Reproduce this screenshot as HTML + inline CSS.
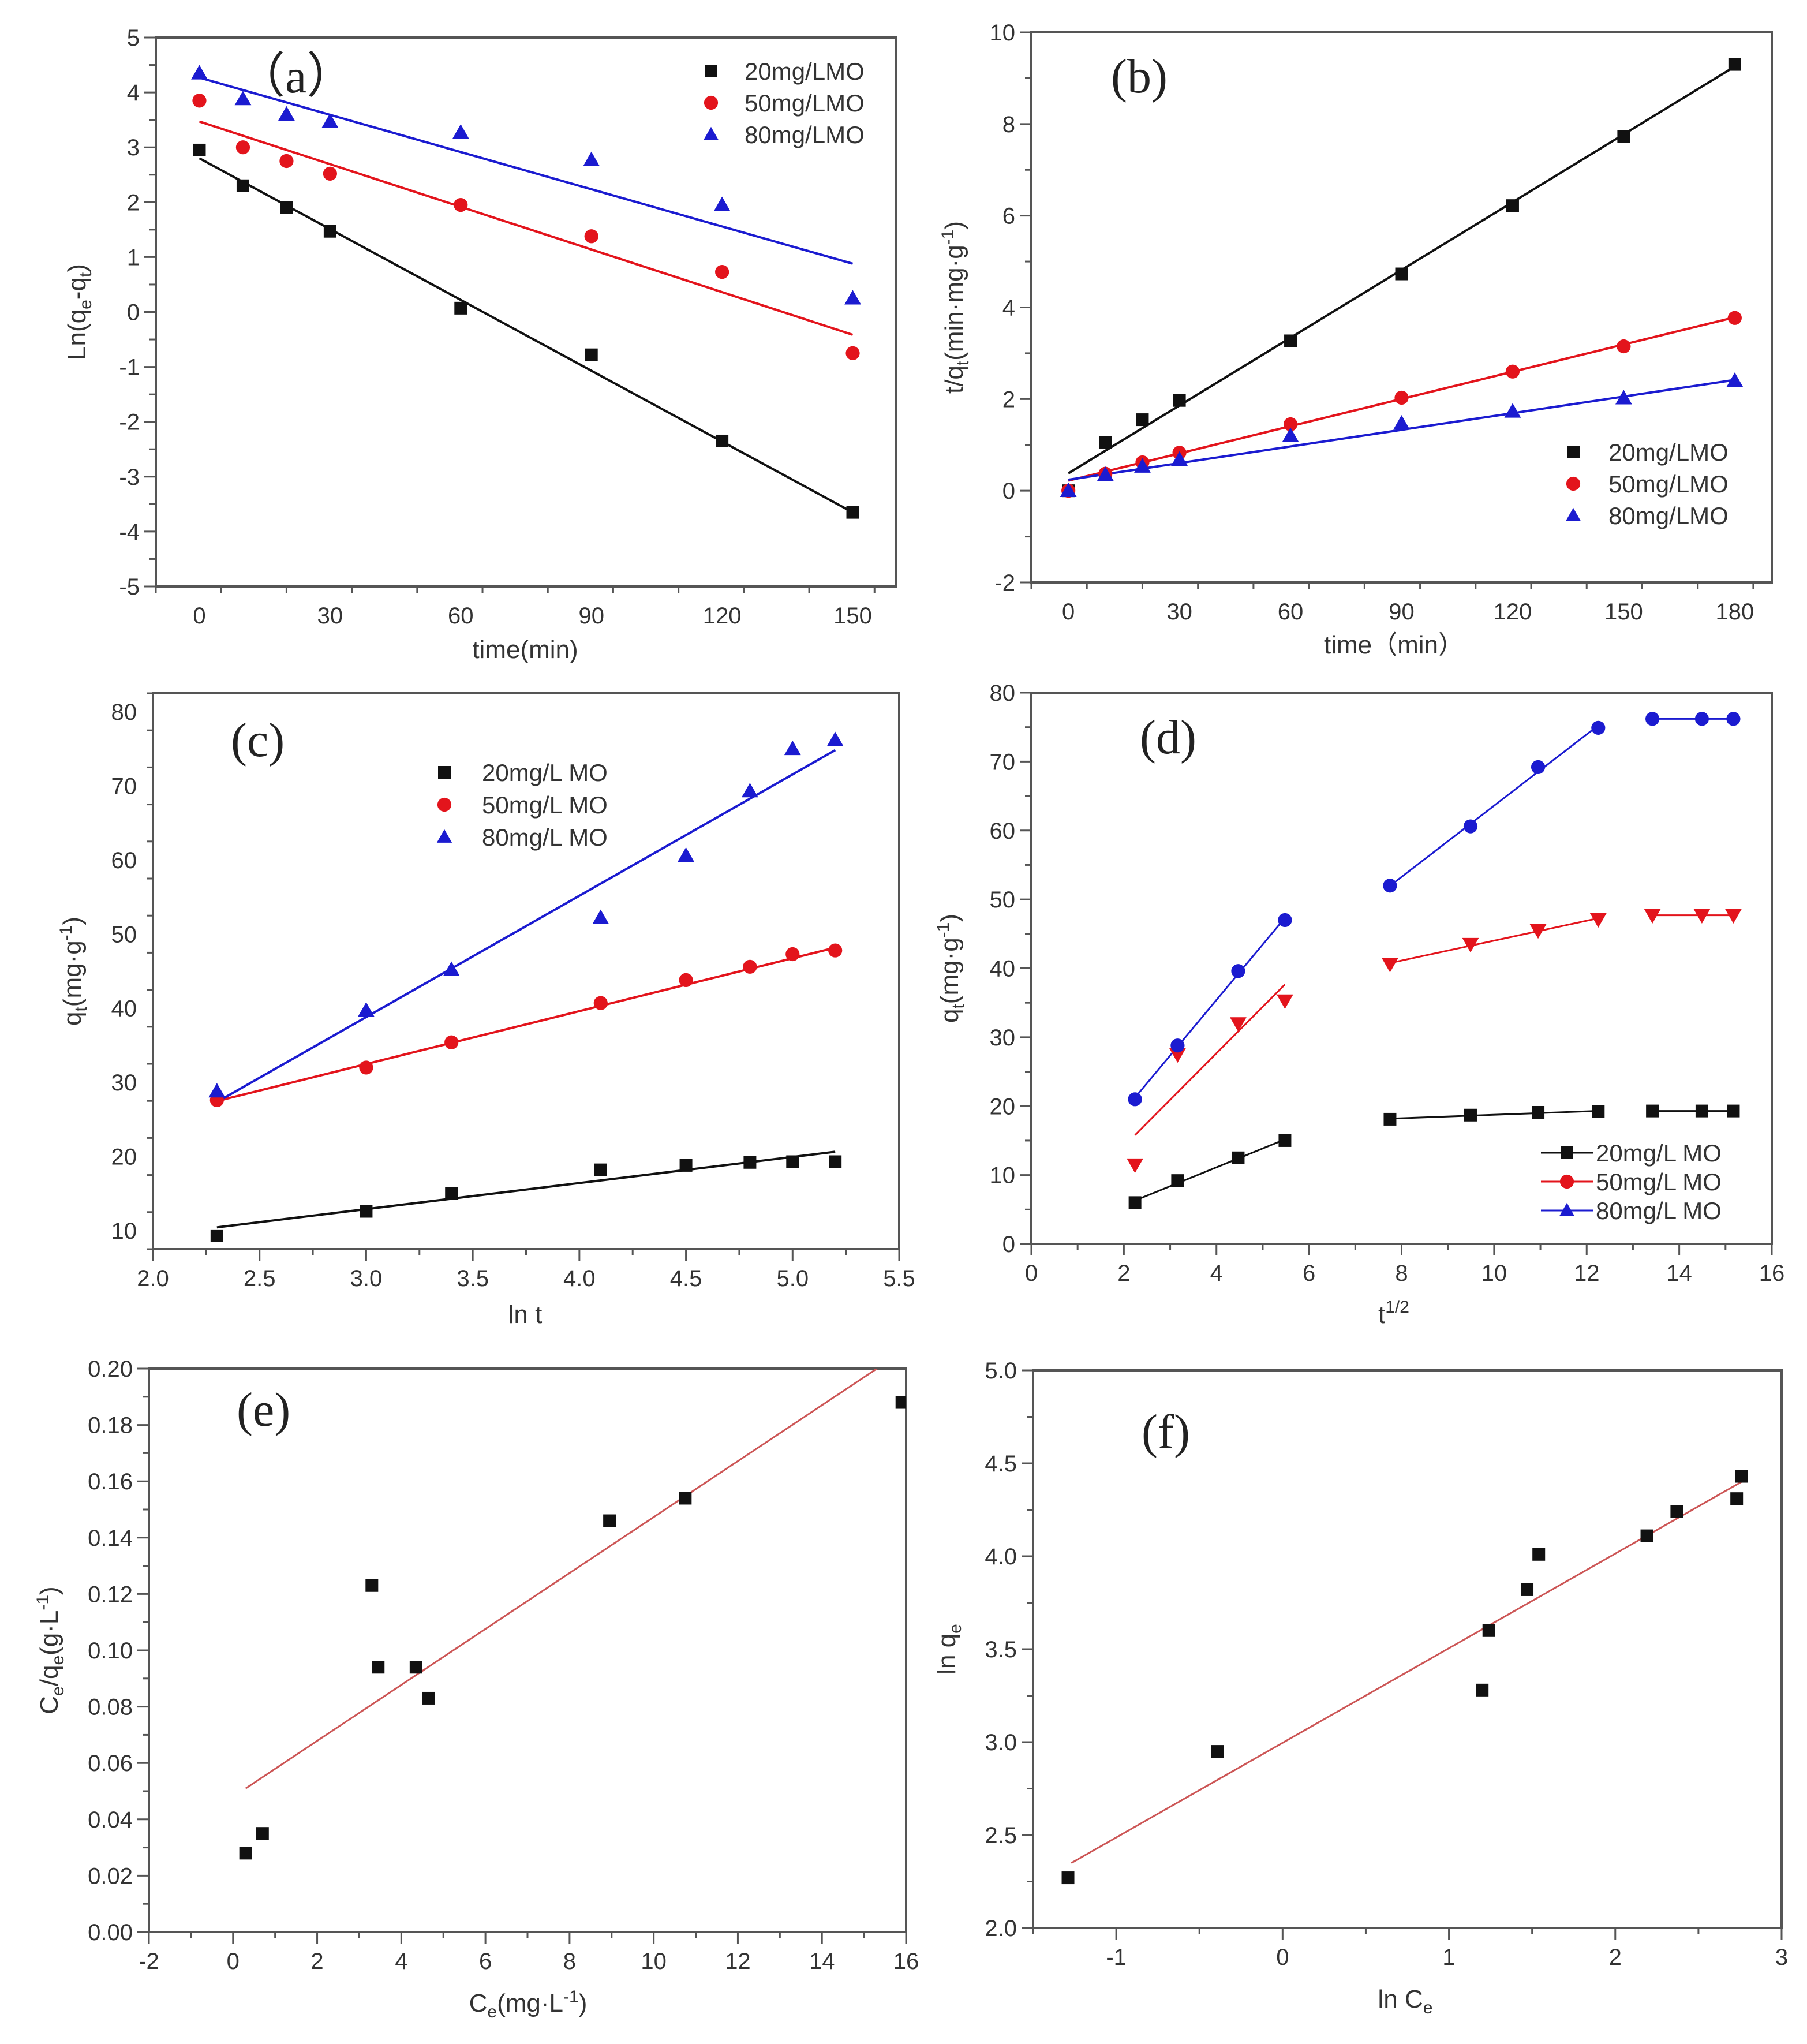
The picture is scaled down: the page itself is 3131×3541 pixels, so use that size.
<!DOCTYPE html>
<html><head><meta charset="utf-8"><style>
html,body{margin:0;padding:0;background:#fff;}
svg{display:block;font-family:"Liberation Sans",Arial,sans-serif;}
</style></head><body>
<svg id="fig" width="3131" height="3541" viewBox="0 0 3131 3541" xmlns="http://www.w3.org/2000/svg">
<rect width="3131" height="3541" fill="#fff"/>
</svg>
<script>
// ---------- data ----------
const aX=[0,10,20,30,60,90,120,150];
const a20=[2.95,2.3,1.9,1.47,0.07,-0.78,-2.35,-3.65];
const a50=[3.85,3.0,2.75,2.52,1.95,1.38,0.73,-0.75];
const a80=[4.35,3.88,3.6,3.47,3.27,2.77,1.95,0.25];
const aFit20=[2.8,-0.0430];
const aFit50=[3.47,-0.0259];
const aFit80=[4.27,-0.0226];

const bX=[0,10,20,30,60,90,120,150,180];
const b20=[0,1.05,1.55,1.97,3.27,4.73,6.22,7.73,9.3];
const b50=[0,0.37,0.62,0.83,1.45,2.03,2.6,3.15,3.77];
const b80=[0,0.35,0.53,0.68,1.2,1.47,1.73,2.02,2.4];
const bFit20=[0.38,0.0493];
const bFit50=[0.22,0.0198];
const bFit80=[0.24,0.0121];

const cX=[2.3,3.0,3.4,4.1,4.5,4.8,5.0,5.2];
const c20=[9.3,12.6,15.0,18.2,18.8,19.2,19.3,19.3];
const c50=[27.6,32.0,35.4,40.7,43.8,45.6,47.3,47.8];
const c80=[28.8,39.7,45.2,52.2,60.6,69.3,75.0,76.2];
const cFit20=[2.34,3.52];
const cFit50=[11.05,7.14];
const cFit80=[-10.3,16.37];

const dX1=[2.24,3.16,4.47,5.48];
const dX2=[7.75,9.49,10.95,12.25];
const dX3=[13.42,14.49,15.17];
const d20s1=[6.0,9.2,12.5,15.0], d20s2=[18.1,18.7,19.1,19.2], d20s3=[19.3,19.3,19.3];
const d50s1=[11.5,27.5,32.0,35.3], d50s2=[40.6,43.5,45.5,47.1], d50s3=[47.7,47.7,47.7];
const d80s1=[21.0,28.8,39.6,47.0], d80s2=[52.0,60.6,69.2,74.9], d80s3=[76.2,76.2,76.2];

const eX=[0.3,0.7,3.3,3.45,4.35,4.65,8.95,10.75,15.9];
const eY=[0.028,0.035,0.123,0.094,0.094,0.083,0.146,0.154,0.188];
const eFit=[0.048,0.00993];
const eFitRange=[0.3,15.4];

const fX=[-1.29,-0.39,1.2,1.24,1.47,1.54,2.19,2.37,2.73,2.76];
const fY=[2.27,2.95,3.28,3.6,3.82,4.01,4.11,4.24,4.31,4.43];
const fFit=[2.996,0.509];
const fFitRange=[-1.27,2.76];

const legA=["20mg/LMO","50mg/LMO","80mg/LMO"];
const legC=["20mg/L MO","50mg/L MO","80mg/L MO"];

// ---------- helpers ----------
const NS="http://www.w3.org/2000/svg";
const svg=document.getElementById('fig');
const BLK="#111",RED="#e3141c",BLU="#1b1bd0",FIT="#cc5555",AX="#555",TX="#333";
function mk(tag,attrs,parent){const e=document.createElementNS(NS,tag);for(const k in attrs)e.setAttribute(k,attrs[k]);(parent||svg).appendChild(e);return e;}

function panel(o){
  const g=mk('g',{});
  
  
  const sx=v=>o.L+(v-o.x0)/(o.x1-o.x0)*(o.R-o.L);
  const sy=v=>o.B-(v-o.y0)/(o.y1-o.y0)*(o.B-o.T);
  const cid='clip-'+o.name;
  const cp=mk('clipPath',{id:cid},g);mk('rect',{x:o.L,y:o.T,width:o.R-o.L,height:o.B-o.T},cp);
  // ticks
  const tg=mk('g',{stroke:AX,'stroke-width':3},g);
  
  
  const eps=1e-9;
  for(let v=o.x0;v<=o.x1+eps;v+=o.xminor){
    const isMaj=Math.abs(Math.round((v-o.xmajor0)/o.xmajor)*o.xmajor+o.xmajor0-v)<1e-6;
    const x=sx(v);mk('line',{x1:x,x2:x,y1:o.B,y2:o.B+(isMaj?20:11)},tg);
  }
  for(let v=o.y0;v<=o.y1+eps;v+=o.yminor){
    const isMaj=Math.abs(Math.round((v-o.ymajor0)/o.ymajor)*o.ymajor+o.ymajor0-v)<1e-6;
    const y=sy(v);mk('line',{x1:o.L,x2:o.L-(isMaj?20:11),y1:y,y2:y},tg);
  }
  // tick labels
  for(const v of o.xticks){
    const t=mk('text',{x:sx(v),y:o.B+64,'text-anchor':'middle','font-size':40,fill:TX},g);
    
    
    t.textContent=v.toFixed(o.xdec);
  }
  for(const v of o.yticks){
    const t=mk('text',{x:o.L-28,y:sy(v)+14,'text-anchor':'end','font-size':40,fill:TX},g);
    
    
    t.textContent=v.toFixed(o.ydec);
  }
  // frame
  const fr=mk('rect',{x:o.L,y:o.T,width:o.R-o.L,height:o.B-o.T,fill:'none',stroke:AX,'stroke-width':4},g);
  
  
  // titles
  const xt=mk('text',{x:o.xtx,y:o.xty,'text-anchor':'middle','font-size':44,fill:TX},g);
  
  
  xt.innerHTML=o.xtitle;
  const yt=mk('text',{x:0,y:0,'text-anchor':'middle','font-size':44,fill:TX,transform:`translate(${o.ytx},${(o.T+o.B)/2}) rotate(-90)`},g);
  
  
  yt.innerHTML=o.ytitle;
  const pl=mk('text',{x:o.lab[0],y:o.lab[1],'font-size':84,fill:'#222','font-family':'"Liberation Serif",serif'},g);
  
  
  pl.textContent=o.label;
  const plot=mk('g',{'clip-path':`url(#${cid})`},g);
  return {g,plot,sx,sy};
}

function marker(parent,shape,x,y,color,s){
  let e;
  if(shape==='sq')e=mk('rect',{x:x-s/2,y:y-s/2,width:s,height:s,fill:color},parent);
  else if(shape==='ci')e=mk('circle',{cx:x,cy:y,r:s*0.55,fill:color},parent);
  else if(shape==='tu')e=mk('polygon',{points:`${x},${y-s*0.6} ${x-s*0.6},${y+s*0.45} ${x+s*0.6},${y+s*0.45}`,fill:color},parent);
  else e=mk('polygon',{points:`${x},${y+s*0.6} ${x-s*0.6},${y-s*0.45} ${x+s*0.6},${y-s*0.45}`,fill:color},parent);
  
  
  return e;
}
function series(P,xs,ys,shape,color,s){for(let i=0;i<xs.length;i++)marker(P.plot,shape,P.sx(xs[i]),P.sy(ys[i]),color,s);}
function fitLine(P,fit,xa,xb,color,w,name){
  const l=mk('line',{x1:P.sx(xa),y1:P.sy(fit[0]+fit[1]*xa),x2:P.sx(xb),y2:P.sy(fit[0]+fit[1]*xb),stroke:color,'stroke-width':w},P.plot);
  
  
}
function lsq(xs,ys){const n=xs.length;let mx=0,my=0;for(let i=0;i<n;i++){mx+=xs[i];my+=ys[i];}mx/=n;my/=n;let sxy=0,sxx=0;for(let i=0;i<n;i++){sxy+=(xs[i]-mx)*(ys[i]-my);sxx+=(xs[i]-mx)**2;}const b=sxx?sxy/sxx:0;return [my-b*mx,b];}
function legend(P,items,x,y,dy,tx,withLine){
  const lg=mk('g',{},P.g);
  
  
  items.forEach((it,i)=>{
    const yy=y+i*dy;
    if(withLine){const l=mk('line',{x1:x-45,x2:x+45,y1:yy,y2:yy,stroke:it[1],'stroke-width':3},lg);}
    marker(lg,it[0],x,yy,it[1],22);
    const t=mk('text',{x:tx,y:yy+15,'font-size':42,fill:TX},lg);
    
    
    t.textContent=it[2];
  });
}
const rng=(a,b,s)=>{const r=[];for(let v=a;v<=b+1e-9;v+=s)r.push(+v.toFixed(6));return r;};

// ---------- (a) ----------
let P=panel({name:'panel-a',L:270,R:1553,T:65,B:1016,x0:-10,x1:160,y0:-5,y1:5,xminor:15,xmajor:30,xmajor0:0,yminor:0.5,ymajor:1,ymajor0:0,
  xticks:rng(0,150,30),yticks:rng(-5,5,1),xdec:0,ydec:0,xtx:910,xty:1140,ytx:148,
  xtitle:'time(min)',ytitle:'Ln(q<tspan font-size="30" dy="10">e</tspan><tspan dy="-10">-q</tspan><tspan font-size="30" dy="10">t</tspan><tspan dy="-10">)</tspan>',label:'（a）',lab:[410,160]});
fitLine(P,aFit20,0,150,BLK,4,'fit-line-20');fitLine(P,aFit50,0,150,RED,4,'fit-line-50');fitLine(P,aFit80,0,150,BLU,4,'fit-line-80');
series(P,aX,a20,'sq',BLK,22);series(P,aX,a50,'ci',RED,22);series(P,aX,a80,'tu',BLU,24);
legend(P,[['sq',BLK,legA[0]],['ci',RED,legA[1]],['tu',BLU,legA[2]]],1232,123,55,1290,false);

// ---------- (b) ----------
P=panel({name:'panel-b',L:1787,R:3070,T:56,B:1009,x0:-10,x1:190,y0:-2,y1:10,xminor:15,xmajor:30,xmajor0:0,yminor:1,ymajor:2,ymajor0:0,
  xticks:rng(0,180,30),yticks:rng(-2,10,2),xdec:0,ydec:0,xtx:2415,xty:1132,ytx:1668,
  xtitle:'time（min）',ytitle:'t/q<tspan font-size="30" dy="10">t</tspan><tspan dy="-10">(min·mg·g</tspan><tspan font-size="30" dy="-16">-1</tspan><tspan dy="16">)</tspan>',label:'(b)',lab:[1925,160]});
fitLine(P,bFit20,0,180,BLK,4,'fit-line-20');fitLine(P,bFit50,0,180,RED,4,'fit-line-50');fitLine(P,bFit80,0,180,BLU,4,'fit-line-80');
series(P,bX,b20,'sq',BLK,22);series(P,bX,b50,'ci',RED,22);series(P,bX,b80,'tu',BLU,24);
legend(P,[['sq',BLK,legA[0]],['ci',RED,legA[1]],['tu',BLU,legA[2]]],2726,783,55,2787,false);

// ---------- (c) ----------
P=panel({name:'panel-c',L:265,R:1558,T:1201,B:2164,x0:2,x1:5.5,y0:7.5,y1:82.5,xminor:0.25,xmajor:0.5,xmajor0:2,yminor:5,ymajor:10,ymajor0:0,
  xticks:rng(2,5.5,0.5),yticks:rng(10,80,10),xdec:1,ydec:0,xtx:910,xty:2292,ytx:140,
  xtitle:'ln t',ytitle:'q<tspan font-size="30" dy="10">t</tspan><tspan dy="-10">(mg·g</tspan><tspan font-size="30" dy="-16">-1</tspan><tspan dy="16">)</tspan>',label:'(c)',lab:[400,1310]});
fitLine(P,cFit20,2.3,5.2,BLK,4,'fit-line-20');fitLine(P,cFit50,2.3,5.2,RED,4,'fit-line-50');fitLine(P,cFit80,2.3,5.2,BLU,4,'fit-line-80');
series(P,cX,c20,'sq',BLK,22);series(P,cX,c50,'ci',RED,22);series(P,cX,c80,'tu',BLU,24);
legend(P,[['sq',BLK,legC[0]],['ci',RED,legC[1]],['tu',BLU,legC[2]]],770,1338,56,835,false);

// ---------- (d) ----------
P=panel({name:'panel-d',L:1787,R:3070,T:1200,B:2155,x0:0,x1:16,y0:0,y1:80,xminor:1,xmajor:2,xmajor0:0,yminor:5,ymajor:10,ymajor0:0,
  xticks:rng(0,16,2),yticks:rng(0,80,10),xdec:0,ydec:0,xtx:2415,xty:2292,ytx:1660,
  xtitle:'t<tspan font-size="30" dy="-18">1/2</tspan>',ytitle:'q<tspan font-size="30" dy="10">t</tspan><tspan dy="-10">(mg·g</tspan><tspan font-size="30" dy="-16">-1</tspan><tspan dy="16">)</tspan>',label:'(d)',lab:[1975,1305]});
const dSegs=[[dX1,d20s1,d50s1,d80s1],[dX2,d20s2,d50s2,d80s2],[dX3,d20s3,d50s3,d80s3]];
dSegs.forEach(sg=>{
  const xs=sg[0];
  fitLine(P,lsq(xs,sg[1]),xs[0],xs[xs.length-1],BLK,3,'fit-line-20');
  fitLine(P,lsq(xs,sg[2]),xs[0],xs[xs.length-1],RED,3,'fit-line-50');
  fitLine(P,lsq(xs,sg[3]),xs[0],xs[xs.length-1],BLU,3,'fit-line-80');
  series(P,xs,sg[1],'sq',BLK,22);series(P,xs,sg[2],'td',RED,24);series(P,xs,sg[3],'ci',BLU,22);
});
legend(P,[['sq',BLK,legC[0]],['ci',RED,legC[1]],['tu',BLU,legC[2]]],2715,1997,50,2765,true);

// ---------- (e) ----------
P=panel({name:'panel-e',L:258,R:1570,T:2371,B:3347,x0:-2,x1:16,y0:0,y1:0.2,xminor:1,xmajor:2,xmajor0:0,yminor:0.01,ymajor:0.02,ymajor0:0,
  xticks:rng(-2,16,2),yticks:rng(0,0.2,0.02),xdec:0,ydec:2,xtx:915,xty:3485,ytx:100,
  xtitle:'C<tspan font-size="30" dy="10">e</tspan><tspan dy="-10">(mg·L</tspan><tspan font-size="30" dy="-16">-1</tspan><tspan dy="16">)</tspan>',ytitle:'C<tspan font-size="30" dy="10">e</tspan><tspan dy="-10">/q</tspan><tspan font-size="30" dy="10">e</tspan><tspan dy="-10">(g·L</tspan><tspan font-size="30" dy="-16">-1</tspan><tspan dy="16">)</tspan>',label:'(e)',lab:[410,2470]});
fitLine(P,eFit,eFitRange[0],eFitRange[1],FIT,3,'fit-line');
series(P,eX,eY,'sq',BLK,22);

// ---------- (f) ----------
P=panel({name:'panel-f',L:1790,R:3087,T:2374,B:3340,x0:-1.5,x1:3,y0:2,y1:5,xminor:0.5,xmajor:1,xmajor0:0,yminor:0.25,ymajor:0.5,ymajor0:0,
  xticks:rng(-1,3,1),yticks:rng(2,5,0.5),xdec:0,ydec:1,xtx:2435,xty:3478,ytx:1655,
  xtitle:'ln C<tspan font-size="30" dy="10">e</tspan>',ytitle:'ln q<tspan font-size="30" dy="10">e</tspan>',label:'(f)',lab:[1978,2508]});
fitLine(P,fFit,fFitRange[0],fFitRange[1],FIT,3,'fit-line');
series(P,fX,fY,'sq',BLK,22);
</script>
</body></html>
